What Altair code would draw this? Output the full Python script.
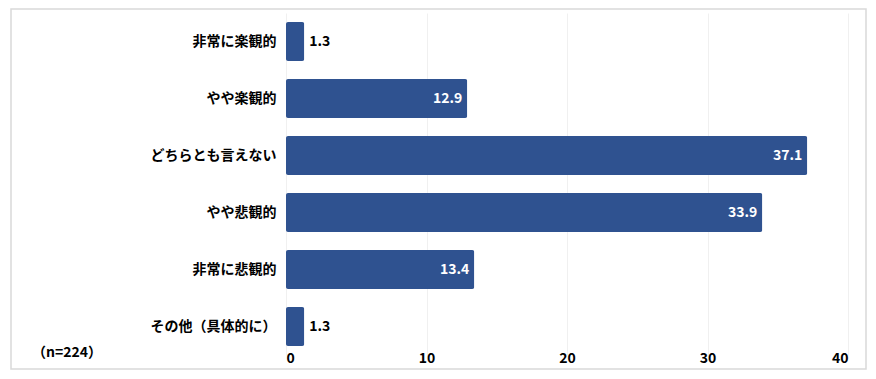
import altair as alt
import pandas as pd

categories = ["非常に楽観的", "やや楽観的", "どちらとも言えない", "やや悲観的", "非常に悲観的", "その他（具体的に）"]
values = [1.3, 12.9, 37.1, 33.9, 13.4, 1.3]
note = "（n=224）"

df = pd.DataFrame({"cat": categories, "val": values})
df["inside"] = df["val"] >= 5
df["label"] = df["val"].map(lambda v: f"{v:.1f}")

FONT = "Noto Sans CJK JP"
BAR = "#2f5290"

x = alt.X("val:Q", scale=alt.Scale(domain=[0, 40]),
          axis=alt.Axis(values=[0, 10, 20, 30, 40], title=None, domain=False, ticks=False,
                        labelFontSize=14, labelFontWeight="bold", labelColor="#000000",
                        labelFont=FONT, labelPadding=-4, gridColor="#f0f0f0", gridWidth=1))
y = alt.Y("cat:N", sort=categories,
          scale=alt.Scale(paddingInner=0.32, paddingOuter=0.16),
          axis=alt.Axis(title=None, domain=False, ticks=False, labelFontSize=14,
                        labelFontWeight="bold", labelColor="#000000", labelFont=FONT,
                        labelPadding=10))

bars = alt.Chart(df).mark_bar(color=BAR, cornerRadius=2).encode(x=x, y=y)

lab_in = alt.Chart(df).transform_filter("datum.inside").mark_text(
    align="right", dx=-5, color="white", fontSize=14, fontWeight="bold", font=FONT
).encode(x="val:Q", y=alt.Y("cat:N", sort=categories), text="label:N")

lab_out = alt.Chart(df).transform_filter("!datum.inside").mark_text(
    align="left", dx=5, color="black", fontSize=14, fontWeight="bold", font=FONT
).encode(x="val:Q", y=alt.Y("cat:N", sort=categories), text="label:N")

note_df = pd.DataFrame({"t": [note]})
note_mark = alt.Chart(note_df).mark_text(
    align="center", baseline="middle", fontSize=14, fontWeight="bold", font=FONT, color="black"
).encode(x=alt.value(-219), y=alt.value(340), text="t:N")

border_df = pd.DataFrame({"a": [1]})
border = alt.Chart(border_df).mark_rect(fill=None, stroke="#d9d9d9", strokeWidth=1.5).encode(
    x=alt.value(-275), x2=alt.value(580), y=alt.value(-4), y2=alt.value(356))

chart = alt.layer(border, bars, lab_in, lab_out, note_mark).properties(
    width=562, height=342,
    autosize=alt.AutoSizeParams(type="none"),
    padding={"left": 278, "top": 5, "right": 20, "bottom": 16},
    background="white",
).configure_view(stroke=None)

chart.save("out.html", embed_options={"renderer": "svg", "actions": False})
